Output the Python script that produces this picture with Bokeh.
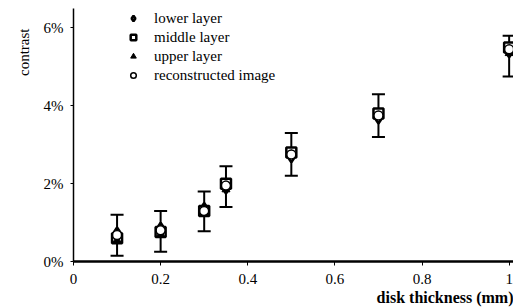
from bokeh.plotting import figure
from bokeh.models import (ColumnDataSource, Whisker, TeeHead, Legend, LegendItem,
                          FixedTicker, PrintfTickFormatter, Title, Range1d)
from bokeh.embed import file_html
from bokeh.resources import INLINE

thickness = [0.1, 0.2, 0.3, 0.35, 0.5, 0.7, 1.0]
lower_layer = [0.72, 0.84, 1.35, 1.9, 2.7, 3.7, 5.4]
middle_layer = [0.6, 0.76, 1.3, 2.0, 2.8, 3.8, 5.5]
upper_layer = [0.55, 0.7, 1.25, 1.85, 2.75, 3.75, 5.35]
reconstructed = [0.68, 0.8, 1.3, 1.95, 2.75, 3.75, 5.45]
err_low = [0.15, 0.25, 0.78, 1.4, 2.2, 3.2, 4.75]
err_high = [1.2, 1.3, 1.8, 2.45, 3.3, 4.3, 5.8]

x_ticks = [0, 0.2, 0.4, 0.6, 0.8, 1.0]
x_tick_labels = {0: "0", 0.2: "0.2", 0.4: "0.4", 0.6: "0.6", 0.8: "0.8", 1.0: "1"}
y_ticks = [0, 2, 4, 6]

FONT = "Liberation Serif"

src = ColumnDataSource(dict(x=thickness, lower=lower_layer, middle=middle_layer,
                            upper=upper_layer, rec=reconstructed,
                            lo=err_low, hi=err_high))

p = figure(width=513, height=307, output_backend="svg", toolbar_location=None,
           x_range=Range1d(0, 1.01), y_range=Range1d(0, 6.5),
           min_border_left=73, min_border_right=0, min_border_top=8, min_border_bottom=46)
p.outline_line_color = None
p.xgrid.visible = False
p.ygrid.visible = False
p.background_fill_color = "white"

w = Whisker(source=src, base="x", lower="lo", upper="hi", line_color="black", line_width=2,
            upper_head=TeeHead(size=13, line_color="black", line_width=2),
            lower_head=TeeHead(size=13, line_color="black", line_width=2))
p.add_layout(w)

r_low = p.scatter("x", "lower", source=src, marker="diamond", size=12,
                  fill_color="white", line_color="black", line_width=2.5)
r_mid = p.scatter("x", "middle", source=src, marker="square", size=10,
                  fill_color="white", line_color="black", line_width=2.5)
r_up = p.scatter("x", "upper", source=src, marker="triangle", size=8,
                 fill_color="black", line_color="black")
r_rec = p.scatter("x", "rec", source=src, marker="circle", size=9,
                  fill_color="white", line_color="black", line_width=1.5)

legend = Legend(items=[
    LegendItem(label="lower layer", renderers=[r_low]),
    LegendItem(label="middle layer", renderers=[r_mid]),
    LegendItem(label="upper layer", renderers=[r_up]),
    LegendItem(label="reconstructed image", renderers=[r_rec]),
], location=(53, 253 - 76), border_line_color=None, background_fill_alpha=0,
    padding=0, spacing=1, label_height=18, glyph_height=14, glyph_width=14,
    label_standoff=14, label_text_font=FONT, label_text_font_size="15px",
    label_text_color="black", margin=0)
p.add_layout(legend)

for ax in (p.xaxis, p.yaxis):
    ax.axis_line_color = "black"
    ax.major_tick_line_color = "black"
    ax.minor_tick_line_color = None
    ax.major_tick_in = 0
    ax.major_label_text_font = FONT
    ax.major_label_text_font_size = "15px"
    ax.major_label_text_color = "black"

p.xaxis.ticker = FixedTicker(ticks=x_ticks)
p.xaxis.major_label_overrides = x_tick_labels
p.xaxis.major_tick_out = 4
p.xaxis.major_label_standoff = 8
p.xaxis.axis_line_width = 2.5

p.yaxis.ticker = FixedTicker(ticks=y_ticks)
p.yaxis.formatter = PrintfTickFormatter(format="%d%%")
p.yaxis.major_tick_out = 3
p.yaxis.major_label_standoff = 7
p.yaxis.axis_line_width = 1.5

p.add_layout(Title(text="contrast", align="right", text_font=FONT, text_font_size="15px",
                   text_font_style="normal", text_color="black", offset=20, standoff=18), "left")
p.add_layout(Title(text="disk thickness (mm)", align="right", text_font=FONT,
                   text_font_size="16px", text_font_style="bold", text_color="black",
                   standoff=0), "below")

open("out.html", "w").write(file_html(p, INLINE))
